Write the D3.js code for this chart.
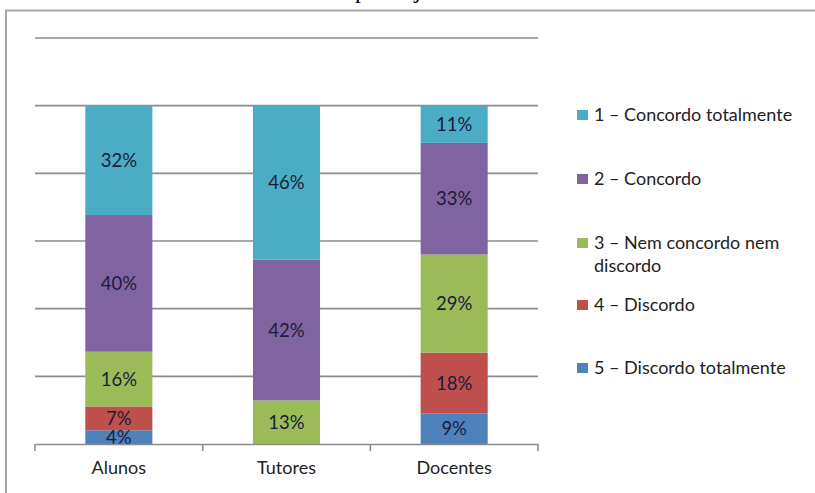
<!DOCTYPE html>
<html><head><meta charset="utf-8">
<script src="https://cdn.jsdelivr.net/npm/d3@7"></script>
<style>
html,body{margin:0;padding:0;background:#fff;overflow:hidden}
svg{display:block}
</style></head>
<body>
<svg id="chart" width="815" height="493"></svg>
<script>
const categories = ["Alunos", "Tutores", "Docentes"];
const seriesNames = ["1 – Concordo totalmente", "2 – Concordo", "3 – Nem concordo nem discordo", "4 – Discordo", "5 – Discordo totalmente"];
const legendLines = [["1 – Concordo totalmente"], ["2 – Concordo"], ["3 – Nem concordo nem", "discordo"], ["4 – Discordo"], ["5 – Discordo totalmente"]];
const concordoTotalmente = [32, 46, 11];
const concordo = [40, 42, 33];
const nemConcordoNemDiscordo = [16, 13, 29];
const discordo = [7, 0, 18];
const discordoTotalmente = [4, 0, 9];
const colors = ["#4BACC6", "#8064A2", "#9BBB59", "#C0504D", "#4F81BD"];
const yTicks = [0, 0.2, 0.4, 0.6, 0.8, 1.0, 1.2];
const titlePrefix = "Gráfico 3 – Nível de concordância ";
const titleRest = "por sujeito de  ensino a distância";

const valuesBySeries = [concordoTotalmente, concordo, nemConcordoNemDiscordo, discordo, discordoTotalmente];
const rows = categories.map((c, i) => {
  const r = {category: c};
  seriesNames.forEach((s, j) => r[s] = valuesBySeries[j][i]);
  return r;
});
// stack bottom-up: series 5 at bottom
const stackKeys = seriesNames.slice().reverse();
const stacked = d3.stack().keys(stackKeys).offset(d3.stackOffsetExpand)(rows);
const colorOf = d3.scaleOrdinal().domain(seriesNames).range(colors);

const svg = d3.select("#chart");
const font = "Lato, 'Open Sans', sans-serif";

// partial title (cut at top edge, as in the reference)
const title = svg.append("text").attr("y", -2)
  .attr("font-family", "'Liberation Serif', 'Times New Roman', serif")
  .attr("font-size", 24).attr("fill", "#000");
title.append("tspan").text(titlePrefix);
title.append("tspan").text(titleRest);
const prefixW = title.select("tspan").node().getComputedTextLength();
title.attr("x", 355 - prefixW);

// frame
svg.append("path").attr("d", "M6,493 L6,10.5 L815,10.5").attr("fill", "none")
  .attr("stroke", "#a6a6a6").attr("stroke-width", 2);

const x = d3.scaleBand().domain(categories).range([35, 538]).padding(0);
const y = d3.scaleLinear().domain([0, 1.2]).range([444, 38]);
const barW = x.bandwidth() * 0.4;

// gridlines
svg.append("g").selectAll("line").data(yTicks.slice(1)).join("line")
  .attr("x1", 35).attr("x2", 538).attr("y1", d => y(d)).attr("y2", d => y(d))
  .attr("stroke", "#8c8c8c").attr("stroke-width", 1.6);

// bars
const g = svg.append("g");
stacked.forEach(layer => {
  g.append("g").selectAll("rect").data(layer).join("rect")
    .attr("x", d => x(d.data.category) + (x.bandwidth() - barW) / 2)
    .attr("width", barW)
    .attr("y", d => y(d[1]))
    .attr("height", d => y(d[0]) - y(d[1]))
    .attr("fill", colorOf(layer.key));
});

// labels
stacked.forEach(layer => {
  g.append("g").selectAll("text").data(layer.filter(d => d.data[layer.key] > 0)).join("text")
    .attr("x", d => x(d.data.category) + x.bandwidth() / 2)
    .attr("y", d => (y(d[0]) + y(d[1])) / 2)
    .attr("dy", "0.36em")
    .attr("text-anchor", "middle")
    .attr("font-family", font).attr("font-size", 18.5)
    .attr("fill", "#1c1c3a")
    .text(d => d.data[layer.key] + "%");
});

// x axis
const xAxis = d3.axisBottom(x).tickSize(0).tickPadding(17);
const ax = svg.append("g").attr("transform", "translate(0,444)").call(xAxis);
ax.select(".domain").attr("stroke", "#8c8c8c").attr("stroke-width", 1.6);
ax.selectAll("text").attr("font-family", font).attr("font-size", 18).attr("fill", "#222");
// category boundary ticks
const bounds = categories.map(c => x(c)).concat([x(categories[categories.length - 1]) + x.bandwidth()]);
ax.append("g").selectAll("line").data(bounds).join("line")
  .attr("x1", d => d).attr("x2", d => d).attr("y1", 0).attr("y2", 7)
  .attr("stroke", "#8c8c8c").attr("stroke-width", 1.6);

// legend
const legendY = [115, 179, 243, 305, 368];
const lg = svg.append("g");
legendLines.forEach((lines, i) => {
  const item = lg.append("g").attr("transform", `translate(577,${legendY[i]})`);
  item.append("rect").attr("x", 0).attr("y", -5).attr("width", 11).attr("height", 10)
    .attr("fill", colors[i]);
  lines.forEach((t, k) => {
    item.append("text").attr("x", 17).attr("y", k * 23).attr("dy", "0.36em")
      .attr("font-family", font).attr("font-size", 18).attr("fill", "#222").text(t);
  });
});
</script>
</body></html>
